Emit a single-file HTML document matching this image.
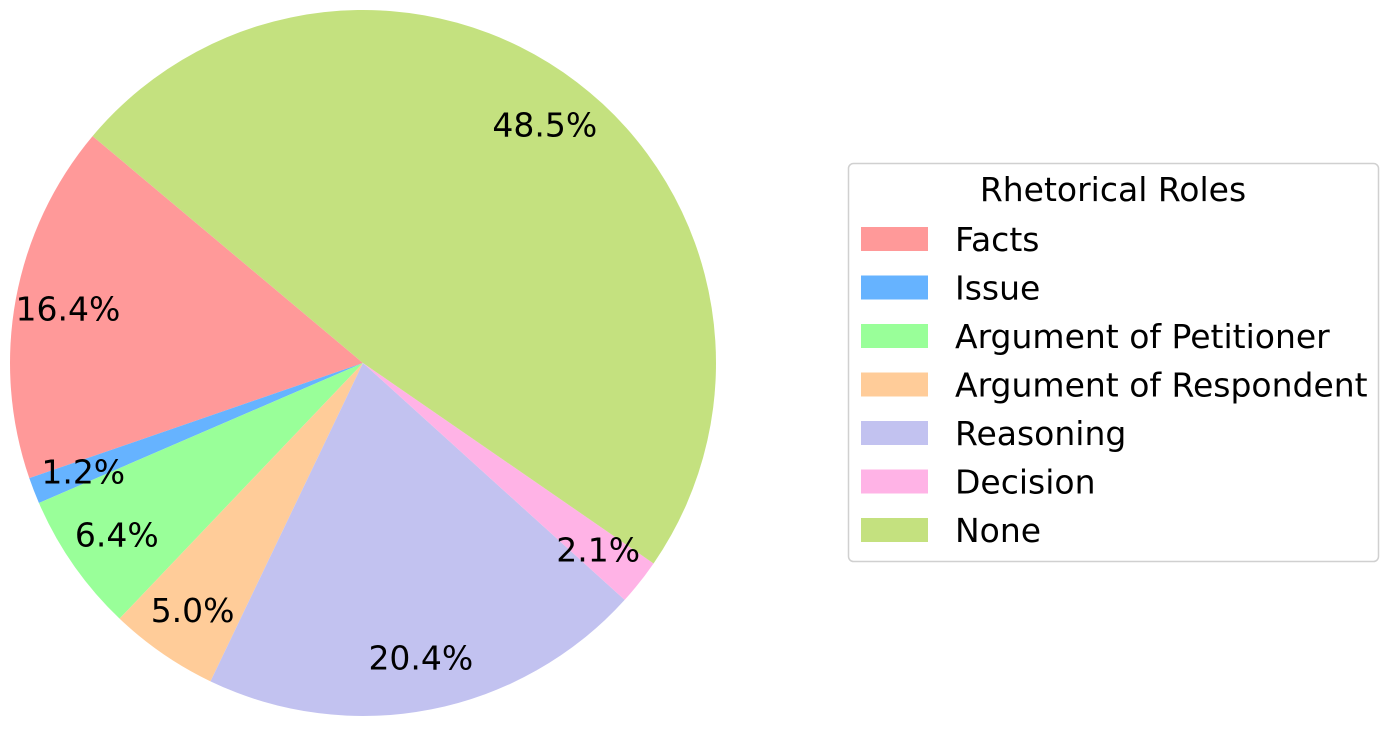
<!DOCTYPE html>
<html><head><meta charset="utf-8"><style>
body{margin:0;background:#fff;}
svg{display:block;font-family:"DejaVu Sans","Liberation Sans",sans-serif;}
</style></head><body>
<svg id="chart" width="1393" height="730" viewBox="0 0 1393 730">
<g id="slices"></g>
<g id="labels"></g>
<g id="legend">
<rect x="848.5" y="163.5" width="530" height="398" rx="5" fill="#fff" stroke="#d0d0d0" stroke-width="1.5"/>
<text x="1113" y="201" text-anchor="middle" font-size="33" fill="#000">Rhetorical Roles</text>
</g>
</svg>
<script>
const categories=["Facts","Issue","Argument of Petitioner","Argument of Respondent","Reasoning","Decision","None"];
const values=[16.4,1.2,6.4,5.0,20.4,2.1,48.5];
const colors=["#ff9999","#66b3ff","#99ff99","#ffcc99","#c2c2f0","#ffb3e6","#c4e17f"];
const NS="http://www.w3.org/2000/svg";
const cx=363,cy=363,r=353,startAngle=140,pctDist=0.85;
const total=values.reduce((a,b)=>a+b,0);
const gS=document.getElementById('slices'),gL=document.getElementById('labels'),gLeg=document.getElementById('legend');
function pt(deg,rad){const a=deg*Math.PI/180;return [cx+rad*Math.cos(a),cy-rad*Math.sin(a)];}
let ang=startAngle;
values.forEach((v,i)=>{
  const sweep=v/total*360;const a0=ang,a1=ang+sweep;
  const p0=pt(a0,r),p1=pt(a1,r);
  const path=document.createElementNS(NS,'path');
  path.setAttribute('d',`M${cx},${cy}L${p0[0]},${p0[1]}A${r},${r} 0 ${sweep>180?1:0} 0 ${p1[0]},${p1[1]}Z`);
  path.setAttribute('fill',colors[i]);
  
  
  gS.appendChild(path);
  const lp=pt((a0+a1)/2,r*pctDist);
  const t=document.createElementNS(NS,'text');
  t.setAttribute('x',lp[0]);t.setAttribute('y',lp[1]+12);
  t.setAttribute('text-anchor','middle');t.setAttribute('font-size','33');
  t.textContent=v.toFixed(1)+'%';
  
  
  gL.appendChild(t);
  ang=a1;
  const y=239+i*48.5;
  const rc=document.createElementNS(NS,'rect');
  rc.setAttribute('x',861);rc.setAttribute('y',y-12);rc.setAttribute('width',67);rc.setAttribute('height',24);
  rc.setAttribute('fill',colors[i]);
  
  
  gLeg.appendChild(rc);
  const lt=document.createElementNS(NS,'text');
  lt.setAttribute('x',955);lt.setAttribute('y',y+12);lt.setAttribute('font-size','33');
  lt.textContent=categories[i];
  
  
  gLeg.appendChild(lt);
});
</script>
</body></html>
